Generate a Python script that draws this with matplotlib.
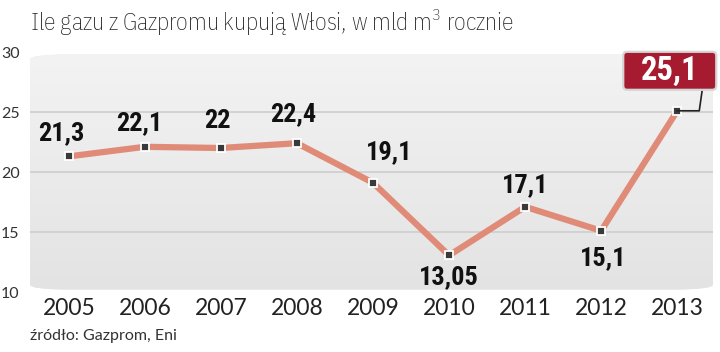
import matplotlib
matplotlib.use("Agg")
import matplotlib.pyplot as plt
import numpy as np
from matplotlib.patches import FancyBboxPatch
from matplotlib.lines import Line2D
from matplotlib.transforms import IdentityTransform

years = [2005, 2006, 2007, 2008, 2009, 2010, 2011, 2012, 2013]
values = [21.3, 22.1, 22.0, 22.4, 19.1, 13.05, 17.1, 15.1, 25.1]
value_labels = ["21,3", "22,1", "22", "22,4", "19,1", "13,05", "17,1", "15,1", "25,1"]
yticks = [10, 15, 20, 25, 30]
title = "Ile gazu z Gazpromu kupują Włosi, w mld m$^3$ rocznie"
source = "źródło: Gazprom, Eni"

TITLEF = ["IBM Plex Sans Condensed", "Roboto Condensed", "DejaVu Sans"]
BOLDF = ["Roboto Condensed", "Fira Sans Condensed", "DejaVu Sans"]
REG = ["Lato", "DejaVu Sans"]
plt.rcParams["mathtext.default"] = "regular"

# label offsets in pixels (style)
offsets = [(-7, 23), (-6, 24), (-4, 27), (-4, 29), (16, 31), (0, -22), (0, 22), (2, -27)]

W, H = 720, 352
fig = plt.figure(figsize=(W / 100, H / 100), dpi=100)
fig.patch.set_facecolor("white")

left, right = 30, 713
top, bottom = 52, 292
ax = fig.add_axes([left / W, 1 - bottom / H, (right - left) / W, (bottom - top) / H])
ax.set_xlim(2004.49, 2013.47)
ax.set_ylim(10, 30)
ax.set_facecolor("none")
for s in ax.spines.values():
    s.set_visible(False)

# rounded gradient panel
panel = FancyBboxPatch((0.0, 0.01), 1.0, 0.98, boxstyle="round,pad=0,rounding_size=0.06",
                       transform=ax.transAxes, facecolor="#ececec", edgecolor="none",
                       mutation_aspect=(bottom - top) / (right - left), zorder=0)
ax.add_patch(panel)
grad = np.linspace(0, 1, 256).reshape(-1, 1)
im = ax.imshow(grad, extent=[0, 1, 0, 1], transform=ax.transAxes, aspect="auto",
               cmap=matplotlib.colors.LinearSegmentedColormap.from_list("g", ["#f3f3f3", "#e3e3e3"]),
               origin="upper", zorder=0.5)
im.set_clip_path(panel)

for yv in yticks[1:-1]:
    ax.axhline(yv, color="#cdcdcd", lw=1.2, zorder=1)

ax.plot(years, values, color="#e08b78", lw=4.5, zorder=2, solid_joinstyle="miter")
ax.plot(years, values, ls="none", marker="s", ms=5.5, mfc="#3a3a3a", mec="white", mew=1.3, zorder=3)

for i in range(len(years) - 1):
    ax.annotate(value_labels[i], (years[i], values[i]), xytext=offsets[i], textcoords="offset pixels",
                ha="center", va="center", fontsize=19, fontweight="heavy",
                family=BOLDF, color="#111111", zorder=4)

# highlighted last value: box + connector in pixel units around the point
x0, y0 = ax.transData.transform((years[-1], values[-1]))
box = FancyBboxPatch((x0 - 54, y0 + 21), 93, 38, boxstyle="round,pad=0,rounding_size=4",
                     transform=IdentityTransform(), fc="#a61b2f", ec="#d5d5d5", lw=1.6, zorder=6,
                     clip_on=False)
ax.add_artist(box)
ax.add_artist(Line2D([x0, x0 + 22, x0 + 25], [y0, y0, y0 + 21], transform=IdentityTransform(),
                     color="#222222", lw=1.2, zorder=5, clip_on=False))
ax.annotate(value_labels[-1], (years[-1], values[-1]), xytext=(-8, 40), textcoords="offset pixels",
            ha="center", va="center", fontsize=23.5, fontweight="heavy", color="white",
            family=BOLDF, zorder=7, annotation_clip=False)

ax.set_xticks(years)
ax.set_xticklabels([str(y) for y in years], fontsize=16.5, family=REG, color="#222222")
ax.set_yticks(yticks)
ax.set_yticklabels([str(y) for y in yticks], fontsize=11.5, family=REG, color="#333333")
ax.tick_params(axis="x", length=0, pad=4)
ax.tick_params(axis="y", length=0, pad=0)
for lab in ax.get_yticklabels():
    lab.set_horizontalalignment("left")
    lab.set_x(-29 / (right - left))

t = fig.text(30 / W, 1 - 22 / H, title, fontsize=15, fontweight="light", family=TITLEF,
             color="#222222", va="center", ha="left")
fig.canvas.draw()
w = t.get_window_extent().width
t.set_fontsize(15 * 485 / w)
fig.text(30 / W, 1 - 336 / H, source, fontsize=11.5, family=REG,
         color="#333333", va="center", ha="left")

fig.savefig("out.png", dpi=100)
